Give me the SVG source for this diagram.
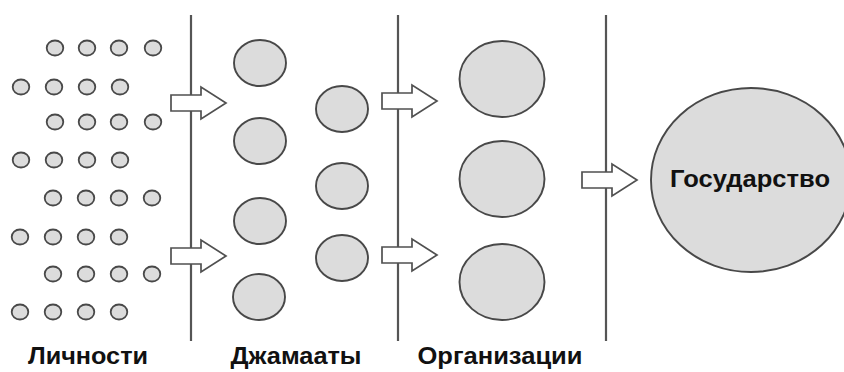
<svg xmlns="http://www.w3.org/2000/svg" xmlns:xlink="http://www.w3.org/1999/xlink" width="844" height="372" viewBox="0 0 844 372">
<style>
.s{fill:#dcdcdc;stroke:#484848;stroke-width:1.8}
.m{fill:#dcdcdc;stroke:#484848;stroke-width:1.9}
.div{stroke:#555;stroke-width:2.2}
.arr{fill:#fff;stroke:#505050;stroke-width:1.7;stroke-linejoin:miter}
.lbl{font-family:"Liberation Sans",Arial,sans-serif;font-weight:bold;font-size:24px;fill:#111;text-anchor:middle}
</style>
<defs>
<path id="arrow" class="arr" d="M0,-8 H30 V-16 L55,0 L30,16 V8 H0 Z"/>
</defs>
<rect width="844" height="372" fill="#fff"/>
<g id="dividers">
<line class="div" x1="191" y1="15" x2="191" y2="341"/>
<line class="div" x1="398" y1="15" x2="398" y2="341"/>
<line class="div" x1="606" y1="15" x2="606" y2="341"/>
</g>
<g id="individuals">
<ellipse class="s" cx="55" cy="48" rx="8.3" ry="7.5"/><ellipse class="s" cx="87" cy="48" rx="8.3" ry="7.5"/><ellipse class="s" cx="119" cy="48" rx="8.3" ry="7.5"/><ellipse class="s" cx="153" cy="48" rx="8.3" ry="7.5"/>
<ellipse class="s" cx="21" cy="87" rx="8.3" ry="7.5"/><ellipse class="s" cx="54" cy="87" rx="8.3" ry="7.5"/><ellipse class="s" cx="87" cy="87" rx="8.3" ry="7.5"/><ellipse class="s" cx="120" cy="87" rx="8.3" ry="7.5"/>
<ellipse class="s" cx="55" cy="122" rx="8.3" ry="7.5"/><ellipse class="s" cx="87" cy="122" rx="8.3" ry="7.5"/><ellipse class="s" cx="119" cy="122" rx="8.3" ry="7.5"/><ellipse class="s" cx="153" cy="122" rx="8.3" ry="7.5"/>
<ellipse class="s" cx="21" cy="160" rx="8.3" ry="7.5"/><ellipse class="s" cx="54" cy="160" rx="8.3" ry="7.5"/><ellipse class="s" cx="87" cy="160" rx="8.3" ry="7.5"/><ellipse class="s" cx="120" cy="160" rx="8.3" ry="7.5"/>
<ellipse class="s" cx="53" cy="198" rx="8.3" ry="7.5"/><ellipse class="s" cx="86" cy="198" rx="8.3" ry="7.5"/><ellipse class="s" cx="119" cy="198" rx="8.3" ry="7.5"/><ellipse class="s" cx="152" cy="198" rx="8.3" ry="7.5"/>
<ellipse class="s" cx="20" cy="237" rx="8.3" ry="7.5"/><ellipse class="s" cx="53" cy="237" rx="8.3" ry="7.5"/><ellipse class="s" cx="86" cy="237" rx="8.3" ry="7.5"/><ellipse class="s" cx="119" cy="237" rx="8.3" ry="7.5"/>
<ellipse class="s" cx="53" cy="274" rx="8.3" ry="7.5"/><ellipse class="s" cx="86" cy="274" rx="8.3" ry="7.5"/><ellipse class="s" cx="119" cy="274" rx="8.3" ry="7.5"/><ellipse class="s" cx="152" cy="274" rx="8.3" ry="7.5"/>
<ellipse class="s" cx="20" cy="312" rx="8.3" ry="7.5"/><ellipse class="s" cx="53" cy="312" rx="8.3" ry="7.5"/><ellipse class="s" cx="86" cy="312" rx="8.3" ry="7.5"/><ellipse class="s" cx="119" cy="312" rx="8.3" ry="7.5"/>
</g>
<g id="jamaats">
<ellipse class="m" cx="260" cy="63" rx="26" ry="23"/>
<ellipse class="m" cx="260" cy="141" rx="26" ry="23"/>
<ellipse class="m" cx="260" cy="221" rx="26" ry="23"/>
<ellipse class="m" cx="259" cy="297" rx="26" ry="23"/>
<ellipse class="m" cx="342" cy="109" rx="26" ry="23"/>
<ellipse class="m" cx="342" cy="186" rx="26" ry="23"/>
<ellipse class="m" cx="342" cy="258" rx="26" ry="23"/>
</g>
<g id="organizations">
<ellipse class="m" cx="502" cy="79" rx="42.5" ry="38"/>
<ellipse class="m" cx="502" cy="179" rx="42.5" ry="38"/>
<ellipse class="m" cx="502" cy="282" rx="42.5" ry="38"/>
</g>
<g id="state">
<ellipse class="m" cx="751" cy="180" rx="100" ry="92"/>
<text class="lbl" x="750" y="187" textLength="160" lengthAdjust="spacingAndGlyphs">Государство</text>
</g>
<g id="connectors">
<use xlink:href="#arrow" x="171" y="103"/>
<use xlink:href="#arrow" x="171" y="256"/>
<use xlink:href="#arrow" x="382" y="101"/>
<use xlink:href="#arrow" x="382" y="255"/>
<use xlink:href="#arrow" x="582" y="180"/>
</g>
<g id="labels">
<text class="lbl" x="88" y="364" textLength="120" lengthAdjust="spacingAndGlyphs">Личности</text>
<text class="lbl" x="296" y="364" textLength="131" lengthAdjust="spacingAndGlyphs">Джамааты</text>
<text class="lbl" x="500" y="364" textLength="165" lengthAdjust="spacingAndGlyphs">Организации</text>
</g>
</svg>
